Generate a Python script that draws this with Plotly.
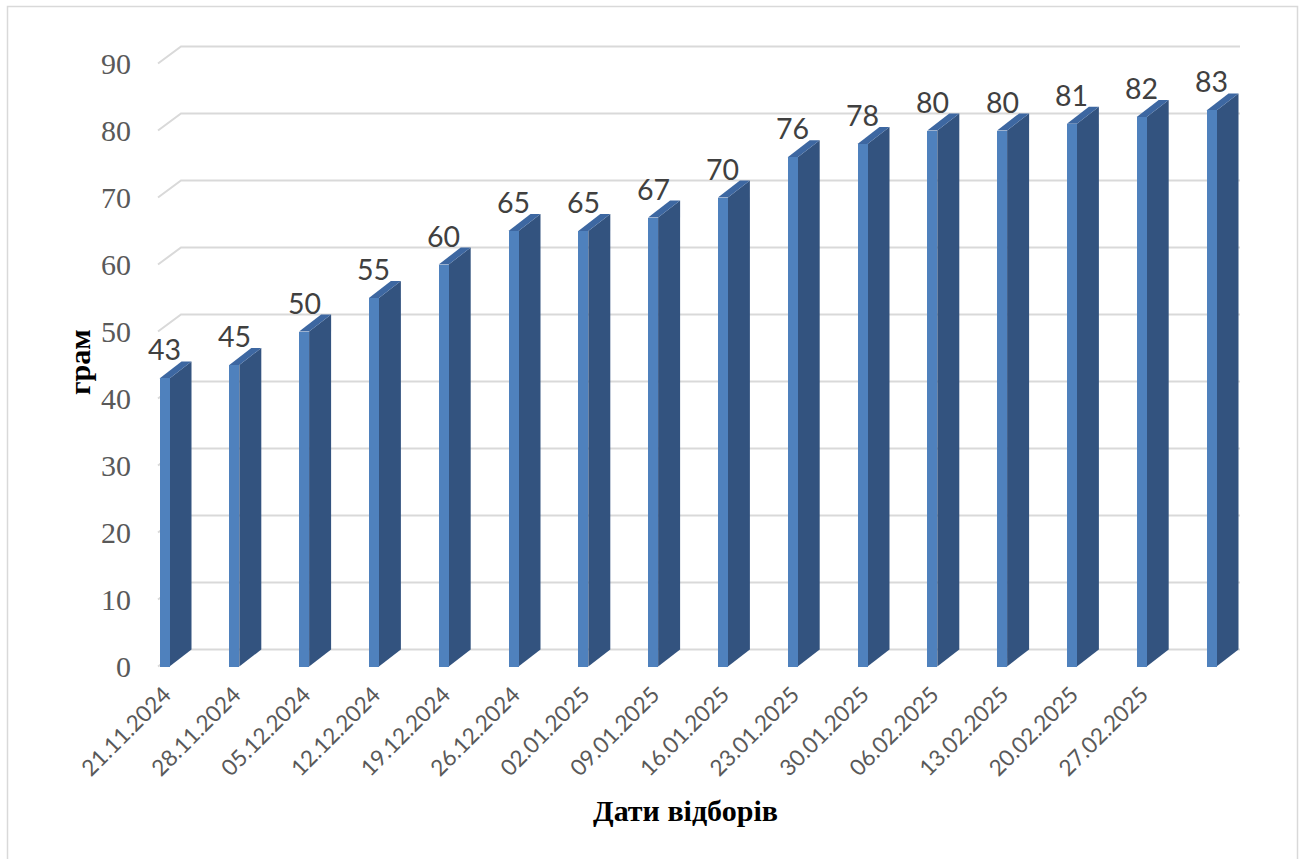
import plotly.graph_objects as go

# ---- data ----
dates = ["21.11.2024", "28.11.2024", "05.12.2024", "12.12.2024", "19.12.2024",
         "26.12.2024", "02.01.2025", "09.01.2025", "16.01.2025", "23.01.2025",
         "30.01.2025", "06.02.2025", "13.02.2025", "20.02.2025", "27.02.2025"]
values = [43, 45, 50, 55, 60, 65, 65, 67, 70, 76, 78, 80, 80, 81, 82, 83]
y_ticks = [0, 10, 20, 30, 40, 50, 60, 70, 80, 90]
y_title = "грам"
x_title = "Дати відборів"

# ---- layout geometry (pixels) ----
W, H = 1304, 859
L, R, T, B = 150, 1250, 30, 676
Y0_PX, PX_PER_UNIT = 666.5, 6.7          # front plane: value 0 pixel, pixels per unit
X0_PX, PX_PER_CAT = 164.5, 69.8          # centre of first bar, pixels per category
DX, DY = 22, 17                          # 3D depth offset in pixels
FACE_W = 10                              # front face width in pixels

y_range = [(Y0_PX - B) / PX_PER_UNIT, (Y0_PX - T) / PX_PER_UNIT]
x_range = [(L - X0_PX) / PX_PER_CAT, (R - X0_PX) / PX_PER_CAT]
dy_data = DY / PX_PER_UNIT

idx = list(range(len(values)))

FRONT = "#4F81BD"
SIDE = "#33537F"
TOP = "#3D67A1"
GRID = "#D9D9D9"

fig = go.Figure()
fig.add_trace(go.Bar(
    x=idx, y=values, width=FACE_W / PX_PER_CAT,
    marker=dict(color=FRONT, line=dict(width=0)),
    hoverinfo="x+y", showlegend=False,
))

shapes = []
# back-wall gridlines with side-wall diagonals
for g in y_ticks:
    shapes.append(dict(
        type="path", xref="x", yref="y", xsizemode="pixel", xanchor=0,
        path=f"M {-6.5},{g} L {-6.5 + DX + 1},{g + dy_data} L {1240 - X0_PX},{g + dy_data}",
        line=dict(color=GRID, width=2), layer="below",
    ))

hf = FACE_W / 2
for i, v in zip(idx, values):
    # side face
    shapes.append(dict(
        type="path", xref="x", yref="y", xsizemode="pixel", xanchor=i,
        path=(f"M {hf},0 L {hf + DX},{dy_data} L {hf + DX},{v + dy_data} "
              f"L {hf},{v} Z"),
        fillcolor=SIDE, line=dict(width=0), layer="below",
    ))
    # top face
    shapes.append(dict(
        type="path", xref="x", yref="y", xsizemode="pixel", xanchor=i,
        path=(f"M {-hf},{v} L {hf},{v} L {hf + DX},{v + dy_data} "
              f"L {-hf + DX},{v + dy_data} Z"),
        fillcolor=TOP, line=dict(width=0), layer="below",
    ))

pw, ph = R - L, B - T
def px2paper_x(px):
    return (px - L) / pw
def px2paper_y(py):
    return (B - py) / ph

# outer chart border
shapes.append(dict(
    type="rect", xref="paper", yref="paper",
    x0=px2paper_x(7.5), x1=px2paper_x(1297.5),
    y0=px2paper_y(880), y1=px2paper_y(6.5),
    line=dict(color="#D9D9D9", width=1.5), fillcolor="rgba(0,0,0,0)", layer="above",
))

annotations = []
for i, v in zip(idx, values):
    annotations.append(dict(
        x=i, y=v, xref="x", yref="y", text=str(v), showarrow=False,
        yanchor="bottom", xanchor="center", yshift=10,
        font=dict(family="Lato, Open Sans, sans-serif", size=28.5, color="#404040"),
    ))
annotations.append(dict(
    x=px2paper_x(80), y=px2paper_y(362), xref="paper", yref="paper",
    xanchor="center", yanchor="middle",
    text=f"<b>{y_title}</b>", showarrow=False, textangle=-90,
    font=dict(family="Liberation Serif, Times New Roman, serif", size=30, color="#000000"),
))
annotations.append(dict(
    x=px2paper_x(685), y=px2paper_y(810), xref="paper", yref="paper",
    xanchor="center", yanchor="middle",
    text=f"<b>{x_title}</b>", showarrow=False,
    font=dict(family="Liberation Serif, Times New Roman, serif", size=30, color="#000000"),
))

fig.update_layout(
    width=W, height=H,
    margin=dict(l=L, r=W - R, t=T, b=H - B, pad=0),
    paper_bgcolor="white", plot_bgcolor="white",
    shapes=shapes, annotations=annotations,
    xaxis=dict(
        range=x_range, tickmode="array", tickvals=idx[:len(dates)], ticktext=dates,
        tickangle=-45, showgrid=False, zeroline=False, showline=False, ticks="",
        tickfont=dict(family="Lato, Open Sans, sans-serif", size=22.5, color="#595959"),
    ),
    yaxis=dict(
        range=y_range, tickmode="array", tickvals=y_ticks,
        showgrid=False, zeroline=False, showline=False, ticks="",
        ticklabelstandoff=18,
        tickfont=dict(family="Liberation Serif, Times New Roman, serif", size=30, color="#595959"),
    ),
    bargap=0,
)

fig.write_html("out.html")
